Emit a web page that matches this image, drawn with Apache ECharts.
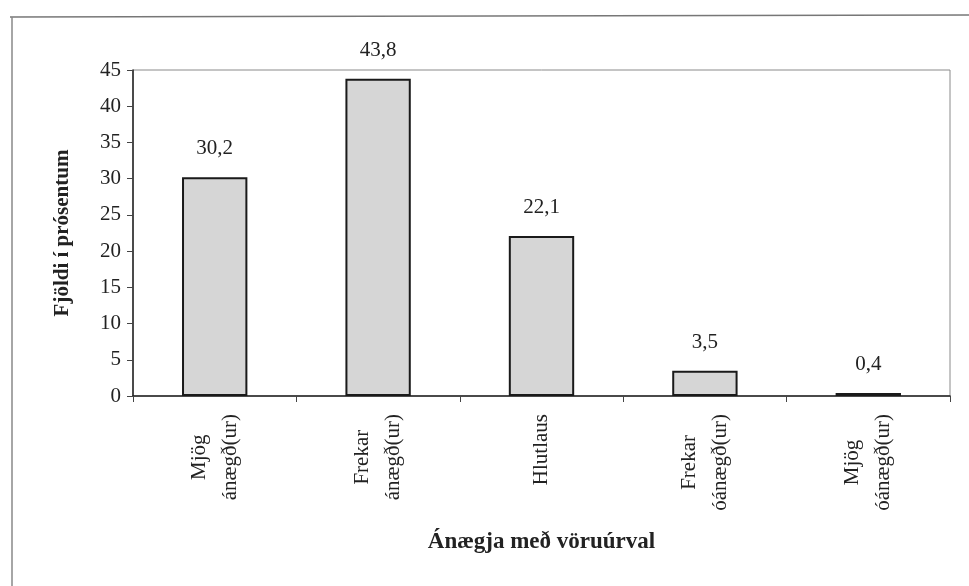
<!DOCTYPE html>
<html>
<head>
<meta charset="utf-8">
<script src="https://cdn.jsdelivr.net/npm/echarts@6/dist/echarts.min.js"></script>
<style>
  html, body { margin: 0; padding: 0; background: #fff; }
  #chart { width: 969px; height: 586px; }
</style>
</head>
<body>
<div id="chart"></div>
<script>
// Data
const categories = [
  ['Mjög', 'ánægð(ur)'],
  ['Frekar', 'ánægð(ur)'],
  ['Hlutlaus'],
  ['Frekar', 'óánægð(ur)'],
  ['Mjög', 'óánægð(ur)']
];
const values = [30.2, 43.8, 22.1, 3.5, 0.4];
const yTicks = { min: 0, max: 45, interval: 5 };
const yTitle = 'Fjöldi í prósentum';
const xTitle = 'Ánægja með vöruúrval';

const serif = '"Liberation Serif", "DejaVu Serif", serif';
const textColor = '#222';

const chart = echarts.init(document.getElementById('chart'), null, { renderer: 'canvas' });

chart.setOption({
  backgroundColor: '#fff',
  animation: false,
  grid: {
    left: 133, top: 70, right: 19, bottom: 190,
    show: true, borderColor: '#8a8a8a', borderWidth: 1, containLabel: false
  },
  xAxis: {
    type: 'category',
    data: categories.map(c => c.join('\n')),
    boundaryGap: true,
    axisLine: { show: true, lineStyle: { color: '#222', width: 1.5 } },
    axisTick: { show: true, alignWithLabel: false, length: 6, lineStyle: { color: '#444', width: 1 } },
    axisLabel: {
      interval: 0,
      rotate: 90,
      margin: 18,
      formatter: function (v) {
        return v.split('\n').map(s => '{c|' + s + '}').join('\n');
      },
      rich: {
        c: { align: 'center', fontFamily: serif, fontSize: 21, lineHeight: 31, color: textColor }
      }
    },
    name: xTitle,
    nameLocation: 'middle',
    nameGap: 135,
    nameTextStyle: { fontFamily: serif, fontSize: 23, fontWeight: 'bold', color: textColor }
  },
  yAxis: {
    type: 'value',
    min: yTicks.min, max: yTicks.max, interval: yTicks.interval,
    axisLine: { show: true, lineStyle: { color: '#222', width: 1.5 } },
    axisTick: { show: true, length: 6, lineStyle: { color: '#444' } },
    splitLine: { show: false },
    axisLabel: { fontFamily: serif, fontSize: 21, color: textColor, margin: 12 },
    name: yTitle,
    nameLocation: 'middle',
    nameGap: 60,
    nameRotate: 90,
    nameTextStyle: { fontFamily: serif, fontSize: 21, fontWeight: 'bold', color: textColor }
  },
  series: [{
    type: 'bar',
    data: values,
    barWidth: '40%',
    itemStyle: { color: '#d6d6d6', borderColor: '#1a1a1a', borderWidth: 2 },
    label: {
      show: true, position: 'top', distance: 18,
      formatter: p => String(p.value).replace('.', ','),
      fontFamily: serif, fontSize: 21, color: textColor
    }
  }],
  graphic: [
    { type: 'line', shape: { x1: 10, y1: 17, x2: 969, y2: 15 }, style: { stroke: '#777', lineWidth: 1.5 } },
    { type: 'line', shape: { x1: 12, y1: 17, x2: 12, y2: 586 }, style: { stroke: '#888', lineWidth: 1.5 } }
  ]
});
</script>
</body>
</html>
